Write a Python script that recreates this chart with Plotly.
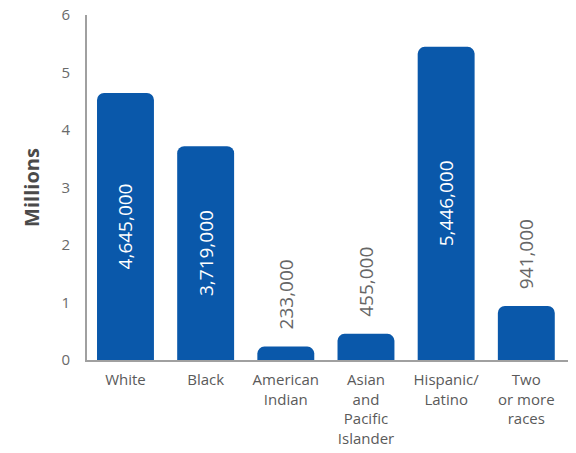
import plotly.graph_objects as go

categories = ["White", "Black", "American<br>Indian", "Asian<br>and<br>Pacific<br>Islander",
              "Hispanic/<br>Latino", "Two<br>or more<br>races"]
values_millions = [4.645, 3.719, 0.233, 0.455, 5.446, 0.941]
value_labels = ["4,645,000", "3,719,000", "233,000", "455,000", "5,446,000", "941,000"]
label_inside = [True, True, False, False, True, False]
y_ticks = [0, 1, 2, 3, 4, 5, 6]

BAR = "#0A58AA"
FONT = "Open Sans"

inside_text = [t if ins else "" for t, ins in zip(value_labels, label_inside)]

fig = go.Figure()
fig.add_trace(go.Bar(
    x=categories, y=values_millions,
    marker=dict(color=BAR, cornerradius=7, line=dict(width=0)),
    width=0.71,
    text=inside_text, textposition="inside", insidetextanchor="middle",
    textangle=-90, textfont=dict(color="white", size=19, family=FONT),
    hoverinfo="skip",
))

for c, v, t, ins in zip(categories, values_millions, value_labels, label_inside):
    if not ins:
        fig.add_annotation(x=c, y=v, text=t, textangle=-90, showarrow=False,
                           yanchor="bottom", yshift=15,
                           font=dict(color="#666666", size=19, family=FONT))

fig.update_layout(
    width=576, height=453,
    margin=dict(l=87, r=8, t=15, b=93),
    paper_bgcolor="white", plot_bgcolor="white",
    showlegend=False,
    font=dict(family=FONT, color="#5a5a5a"),
    bargap=0.29,
)
fig.update_xaxes(
    range=[-0.48, 5.52], showline=True, linecolor="#a0a0a0", linewidth=2,
    ticks="", tickfont=dict(size=15, color="#5a5a5a", family=FONT),
    showgrid=False, zeroline=False, ticklabelstandoff=5, automargin=False,
)
fig.update_yaxes(
    range=[0, 6], tickvals=y_ticks, showline=True, linecolor="#a0a0a0", linewidth=2,
    ticks="", tickfont=dict(size=15, color="#6a6a6a", family=FONT),
    showgrid=False, zeroline=False, ticklabelstandoff=12, automargin=False,
    title=dict(text="<b>Millions</b>", font=dict(size=20, color="#4a4a4a", family=FONT), standoff=16),
)

fig.write_html("out.html")
